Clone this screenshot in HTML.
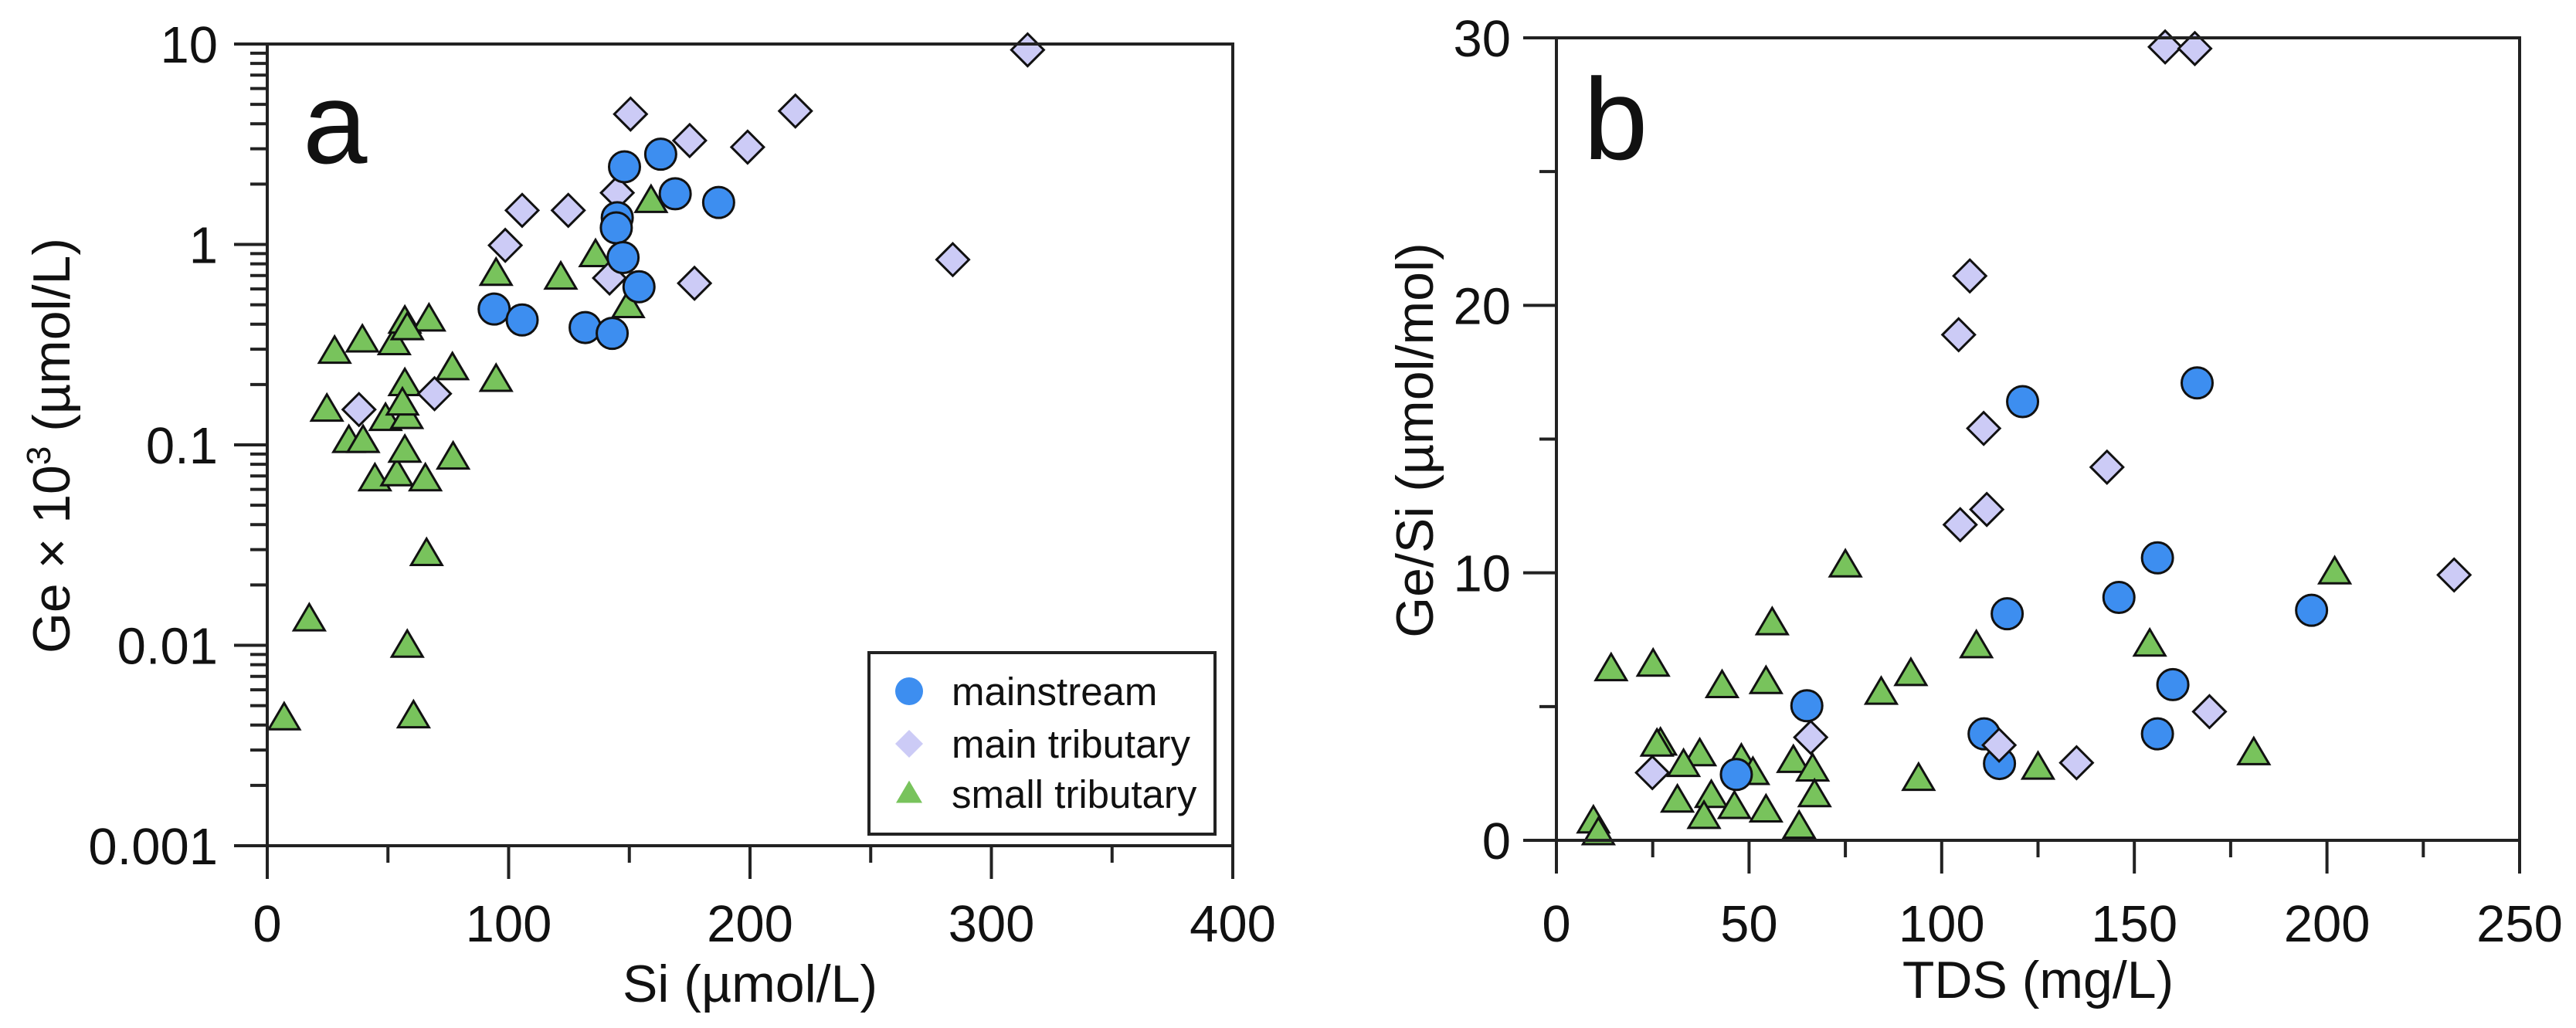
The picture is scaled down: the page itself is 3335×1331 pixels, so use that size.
<!DOCTYPE html>
<html><head><meta charset="utf-8"><style>
html,body{margin:0;padding:0;background:#fff}
svg{display:block;font-family:"Liberation Sans",Arial,sans-serif}
</style></head><body>
<svg id="chart" width="3335" height="1331" viewBox="0 0 3335 1331" xmlns="http://www.w3.org/2000/svg"></svg>
<script>
// ---- Panel a data: Si (umol/L) vs Ge x 10^3 (umol/L) ----
const aMainX = [94,105.6,131.7,142.9,148,163,169,187,145,144.6,147.4,154];
const aMainY = [0.476,0.42,0.385,0.36,2.44,2.82,1.79,1.62,1.36,1.21,0.86,0.615];
const aTribX = [315,150.5,218.8,175,199,145,105.6,124.7,98.6,141.8,177,284,69.3,38];
const aTribY = [9.35,4.47,4.63,3.3,3.06,1.81,1.48,1.48,0.99,0.68,0.64,0.84,0.18,0.15];
const aSmallX = [7,17.4,58,60.6,66,27.9,39.4,52.6,57,67,76.7,57,94.8,94.8,121.6,136,159,149.5,24.7,33.8,39.7,49,57.8,56,44.6,53.7,57,65.5,77,58];
const aSmallY = [0.0043,0.0134,0.0099,0.0044,0.0284,0.29,0.33,0.32,0.41,0.42,0.24,0.2,0.71,0.21,0.68,0.88,1.64,0.49,0.149,0.104,0.104,0.134,0.137,0.16,0.067,0.071,0.093,0.067,0.086,0.38];
const aXTicks = [0,100,200,300,400];
const aYTickLabels = ["0.001","0.01","0.1","1","10"];
// ---- Panel b data: TDS (mg/L) vs Ge/Si (umol/mol) ----
const bMainX = [121,166.3,156,146,117,196,160,65,111,156,115,46.7];
const bMainY = [16.4,17.1,10.56,9.08,8.47,8.6,5.82,5.03,3.98,3.98,2.87,2.46];
const bTribX = [158,165.7,107.3,104.4,110.9,142.9,111.7,104.8,233,169.5,66,114.9,135,24.9];
const bTribY = [29.66,29.6,21.1,18.9,15.4,13.95,12.37,11.8,9.92,4.81,3.85,3.56,2.9,2.53];
const bSmallX = [75,202,56,109,154,14.2,25.1,43,54.4,84.3,92,27,26.1,37.2,48,33,51,61.5,66.5,94,125,181,31.4,40.2,46.2,54.4,38.3,67,9.6,10.9,63];
const bSmallY = [10.26,10.0,8.1,7.24,7.3,6.38,6.55,5.75,5.9,5.5,6.2,3.6,3.56,3.2,3.0,2.8,2.5,2.95,2.63,2.28,2.7,3.24,1.47,1.64,1.23,1.1,0.86,1.67,0.69,0.25,0.49];
const bXTicks = [0,50,100,150,200,250];
const bYTicks = [0,10,20,30];

const NS="http://www.w3.org/2000/svg";
const svg=document.getElementById('chart');
function mk(tag,attrs,parent){const e=document.createElementNS(NS,tag);for(const k in attrs)e.setAttribute(k,attrs[k]);(parent||svg).appendChild(e);return e;}
const BLUE="#3d8ef0",LAV="#cccbf6",GREEN="#78c35c";

const A={L:346,R:1596,T:57,B:1095};
const ax=v=>A.L+(v-0)/400*(A.R-A.L);
const ay=v=>A.B-(Math.log10(v)+3)/4*(A.B-A.T);
const B={L:2015,R:3262,T:49,B:1088};
const bx=v=>B.L+v/250*(B.R-B.L);
const by=v=>B.B-v/30*(B.B-B.T);

function frame(P,name){
  const r=mk('rect',{x:P.L,y:P.T,width:P.R-P.L,height:P.B-P.T,fill:'none',stroke:'#222','stroke-width':4});
  
  
}
function line(x1,y1,x2,y2,g){return mk('line',{x1,y1,x2,y2,stroke:'#222','stroke-width':4},g);}
function text(x,y,s,size,anchor,g,extra){const t=mk('text',Object.assign({x,y,'font-size':size,'text-anchor':anchor,fill:'#111'},extra||{}),g);t.textContent=s;return t;}

function circle(g,x,y,r,stroke){return mk('circle',{cx:x,cy:y,r:r,fill:BLUE,stroke:stroke?'#111':'none','stroke-width':3},g);}
function diamond(g,x,y,r,stroke){return mk('path',{d:`M${x} ${y-r}L${x+r} ${y}L${x} ${y+r}L${x-r} ${y}Z`,fill:LAV,stroke:stroke?'#111':'none','stroke-width':3},g);}
function tri(g,x,y,r,stroke){const h=r*1.7;return mk('path',{d:`M${x} ${y-h*0.6}L${x+r} ${y+h*0.4}L${x-r} ${y+h*0.4}Z`,fill:GREEN,stroke:stroke?'#111':'none','stroke-width':3},g);}

// ---------- Panel a ----------
const ga=mk('g',{});


frame(A,'panel-a-frame');
const gax=mk('g',{},ga);


for(let v=0;v<=400;v+=50){line(ax(v),A.B,ax(v),A.B+(v%100===0?43:22),gax);}
aXTicks.forEach(v=>{const t=text(ax(v),1219,String(v),67,'middle',gax);

});
const gay=mk('g',{},ga);


for(let d=-3;d<=1;d++){
  line(A.L-43,ay(Math.pow(10,d)),A.L,ay(Math.pow(10,d)),gay);
  if(d<1)for(let m=2;m<=9;m++){const v=m*Math.pow(10,d);line(A.L-22,ay(v),A.L,ay(v),gay);}
}
aYTickLabels.forEach(s=>{const t=text(282,ay(parseFloat(s))+24,s,67,'end',gay);

});
const axt=text((A.L+A.R)/2,1297,'Si (µmol/L)',68,'middle',ga);


const ayt=mk('text',{x:0,y:0,'font-size':68,'text-anchor':'middle',fill:'#111',transform:'translate(90,577) rotate(-90)'},ga);
ayt.innerHTML='Ge × 10<tspan dy="-25" font-size="44">3</tspan><tspan dy="25"> (µmol/L)</tspan>';


const pa=text(392,211,'a',150,'start',ga);


const gas=mk('g',{},ga);


aSmallX.forEach((v,i)=>{const m=tri(gas,ax(v),ay(aSmallY[i]),20,true);

});
const gat=mk('g',{},ga);


aTribX.forEach((v,i)=>{const m=diamond(gat,ax(v),ay(aTribY[i]),21,true);

});
const gam=mk('g',{},ga);


aMainX.forEach((v,i)=>{const m=circle(gam,ax(v),ay(aMainY[i]),20,true);

});
const gl=mk('g',{},ga);


mk('rect',{x:1125,y:845,width:448,height:235,fill:'#fff',stroke:'#222','stroke-width':4},gl);
const legItems=[['mainstream',circle,895],['main tributary',diamond,963],['small tributary',tri,1028]];
legItems.forEach(([lab,fn,y])=>{
  const e=mk('g',{},gl);
  
  
  fn(e,1177,y,fn===tri?17:18,false);
  text(1232,y+18,lab,51,'start',e);
});

// ---------- Panel b ----------
const gb=mk('g',{});


frame(B,'panel-b-frame');
const gbx=mk('g',{},gb);


for(let v=0;v<=250;v+=25){line(bx(v),B.B,bx(v),B.B+(v%50===0?43:22),gbx);}
bXTicks.forEach(v=>{const t=text(bx(v),1219,String(v),67,'middle',gbx);

});
const gby=mk('g',{},gb);


for(let v=0;v<=30;v+=5){line(B.L-(v%10===0?43:22),by(v),B.L,by(v),gby);}
bYTicks.forEach(v=>{const t=text(1956,by(v)+24,String(v),67,'end',gby);

});
const bxt=text((B.L+B.R)/2,1292,'TDS (mg/L)',68,'middle',gb);


const byt=mk('text',{x:0,y:0,'font-size':68,'text-anchor':'middle',fill:'#111',transform:'translate(1855,570) rotate(-90)'},gb);
byt.textContent='Ge/Si (µmol/mol)';


const pb=text(2050,206,'b',150,'start',gb);


const gbs=mk('g',{},gb);


bSmallX.forEach((v,i)=>{const m=tri(gbs,bx(v),by(bSmallY[i]),20,true);

});
const gbm=mk('g',{},gb);


bMainX.forEach((v,i)=>{const m=circle(gbm,bx(v),by(bMainY[i]),20,true);

});
const gbt=mk('g',{},gb);


bTribX.forEach((v,i)=>{const m=diamond(gbt,bx(v),by(bTribY[i]),21,true);

});
</script>
</body></html>
